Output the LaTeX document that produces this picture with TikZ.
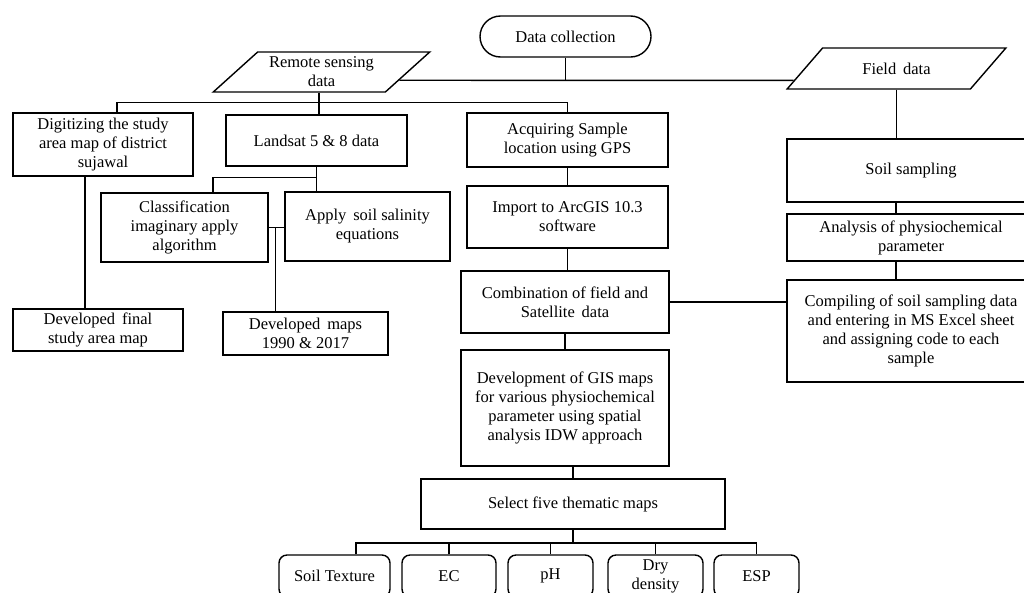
\documentclass[tikz,border=0pt]{standalone}
\usepackage{fontspec}
\setmainfont{Liberation Serif}
\usetikzlibrary{positioning,shapes.geometric,calc}

\begin{document}
\begin{tikzpicture}[x=1pt,y=-1pt,line width=1.4pt,
  every node/.style={font=\fontsize{16.5}{19}\selectfont,align=center,inner sep=2pt},
  box/.style={draw,rectangle},
  databox/.style={draw,trapezium,trapezium left angle=42,
    trapezium right angle=138,trapezium stretches=true},
  mapbox/.style={draw,rounded corners=8pt,minimum height=42pt}]
  \useasboundingbox (0,0) rectangle (1024,592);
  \clip (0,0) rectangle (1024,592);
  % Start and the two data sources
  \node[draw,rounded corners=20.5pt,minimum width=171pt,minimum height=41pt]
    (collect) at (565.5,36.5) {Data collection};
  \node[databox,minimum width=217pt,minimum height=40pt] (remote) at (321.5,72) {Remote sensing\\data};
  \node[databox,minimum width=219pt,minimum height=41pt] (field) at (896.5,68.5) {Field\, data};
  % Remote sensing branch
  \node[box,minimum width=180pt,minimum height=63pt] (digit) at (103,144.5)
    {Digitizing the study\\area map of district\\sujawal};
  \node[box,minimum width=181pt,minimum height=51pt] (landsat) at (316.5,140.5) {Landsat 5 \& 8 data};
  \node[box,minimum width=167pt,minimum height=69pt] (classif) at (184.5,227.5)
    {Classification\\imaginary apply\\algorithm};
  \node[box,minimum width=165pt,minimum height=69pt] (apply) at (367.5,226.5)
    {Apply\, soil salinity\\equations};
  \node[box,minimum width=170pt,minimum height=42pt] (final) at (98,330)
    {Developed\, final\\study area map};
  \node[box,minimum width=165pt,minimum height=43pt] (maps) at (305.5,333.5)
    {Developed\, maps\\1990 \& 2017};
  % GPS / GIS branch
  \node[box,minimum width=201pt,minimum height=54pt] (acquire) at (567.5,140)
    {Acquiring Sample\\location using GPS};
  \node[box,minimum width=201pt,minimum height=62pt] (import) at (567.5,217)
    {Import to ArcGIS 10.3\\software};
  \node[box,minimum width=208pt,minimum height=62pt] (combine) at (565,302)
    {Combination of field and\\Satellite\, data};
  \node[box,minimum width=208pt,minimum height=116pt] (develop) at (565,408)
    {Development of GIS maps\\for various physiochemical\\parameter using spatial\\analysis IDW approach};
  \node[box,minimum width=304pt,minimum height=50pt] (select) at (573,504)
    {Select five thematic maps};
  % Field branch
  \node[box,minimum width=248pt,minimum height=63pt] (soil) at (911,170.5) {Soil sampling};
  \node[box,minimum width=248pt,minimum height=47pt] (analysis) at (911,237.5)
    {Analysis of physiochemical\\parameter};
  \node[box,minimum width=248pt,minimum height=102pt] (compile) at (911,331)
    {Compiling of soil sampling data\\and entering in MS Excel sheet\\and assigning code to each\\sample};
  % Thematic maps
  \node[mapbox,minimum width=111pt] (texture) at (334.5,576) {Soil Texture};
  \node[mapbox,minimum width=94pt] (ec) at (449,576) {EC};
  \node[mapbox,minimum width=85pt] (ph) at (550.5,576) {pH};
  \node[mapbox,minimum width=95pt] (dry) at (655.5,576) {Dry\\density};
  \node[mapbox,minimum width=85pt] (esp) at (756.5,576) {ESP};
  \coordinate (top) at (565.5,80);
  \coordinate (bus) at (573,543);
  % Connectors
  \draw (collect) -- (top);
  \draw ($(remote.bottom right corner)!0.3!(remote.top right corner)$)
    -- ($(field.bottom left corner)!0.22!(field.top left corner)$);
  \draw ([xshift=-2.5pt]remote.south) -- ([xshift=-2.5pt]remote.south |- landsat.north);
  \draw ([xshift=14pt]digit.north) -- ++(0,-10) -| (acquire.north);
  \draw (landsat.south) -- (landsat.south |- apply.north);
  \draw (landsat.south) ++(0,11) -| ([xshift=28.5pt]classif.north);
  \draw (classif.east) -- (classif.east -| apply.west);
  \draw ([xshift=7pt]classif.east) -- ([xshift=7pt]classif.east |- maps.north);
  \draw ([xshift=-18pt]digit.south) -- ([xshift=-18pt]digit.south |- final.north);
  \draw (acquire) -- (import);
  \draw (import.south) -- (import.south |- combine.north);
  \draw (combine) -- (develop);
  \draw (select.north) -- (select.north |- develop.south);
  \draw (combine.east) -- (combine.east -| compile.west);
  \draw (field.south) -- (field.south |- soil.north);
  \draw ([xshift=-15pt]soil.south) -- ([xshift=-15pt]analysis.north);
  \draw ([xshift=-15pt]analysis.south) -- ([xshift=-15pt]compile.north);
  \draw (select.south) -- (bus);
  \draw ([xshift=21.5pt]texture.north) |- (bus) -| (esp.north);
  \foreach \m in {ec,ph,dry}
    \draw (\m.north) -- (\m.north |- bus);
\end{tikzpicture}
\end{document}
